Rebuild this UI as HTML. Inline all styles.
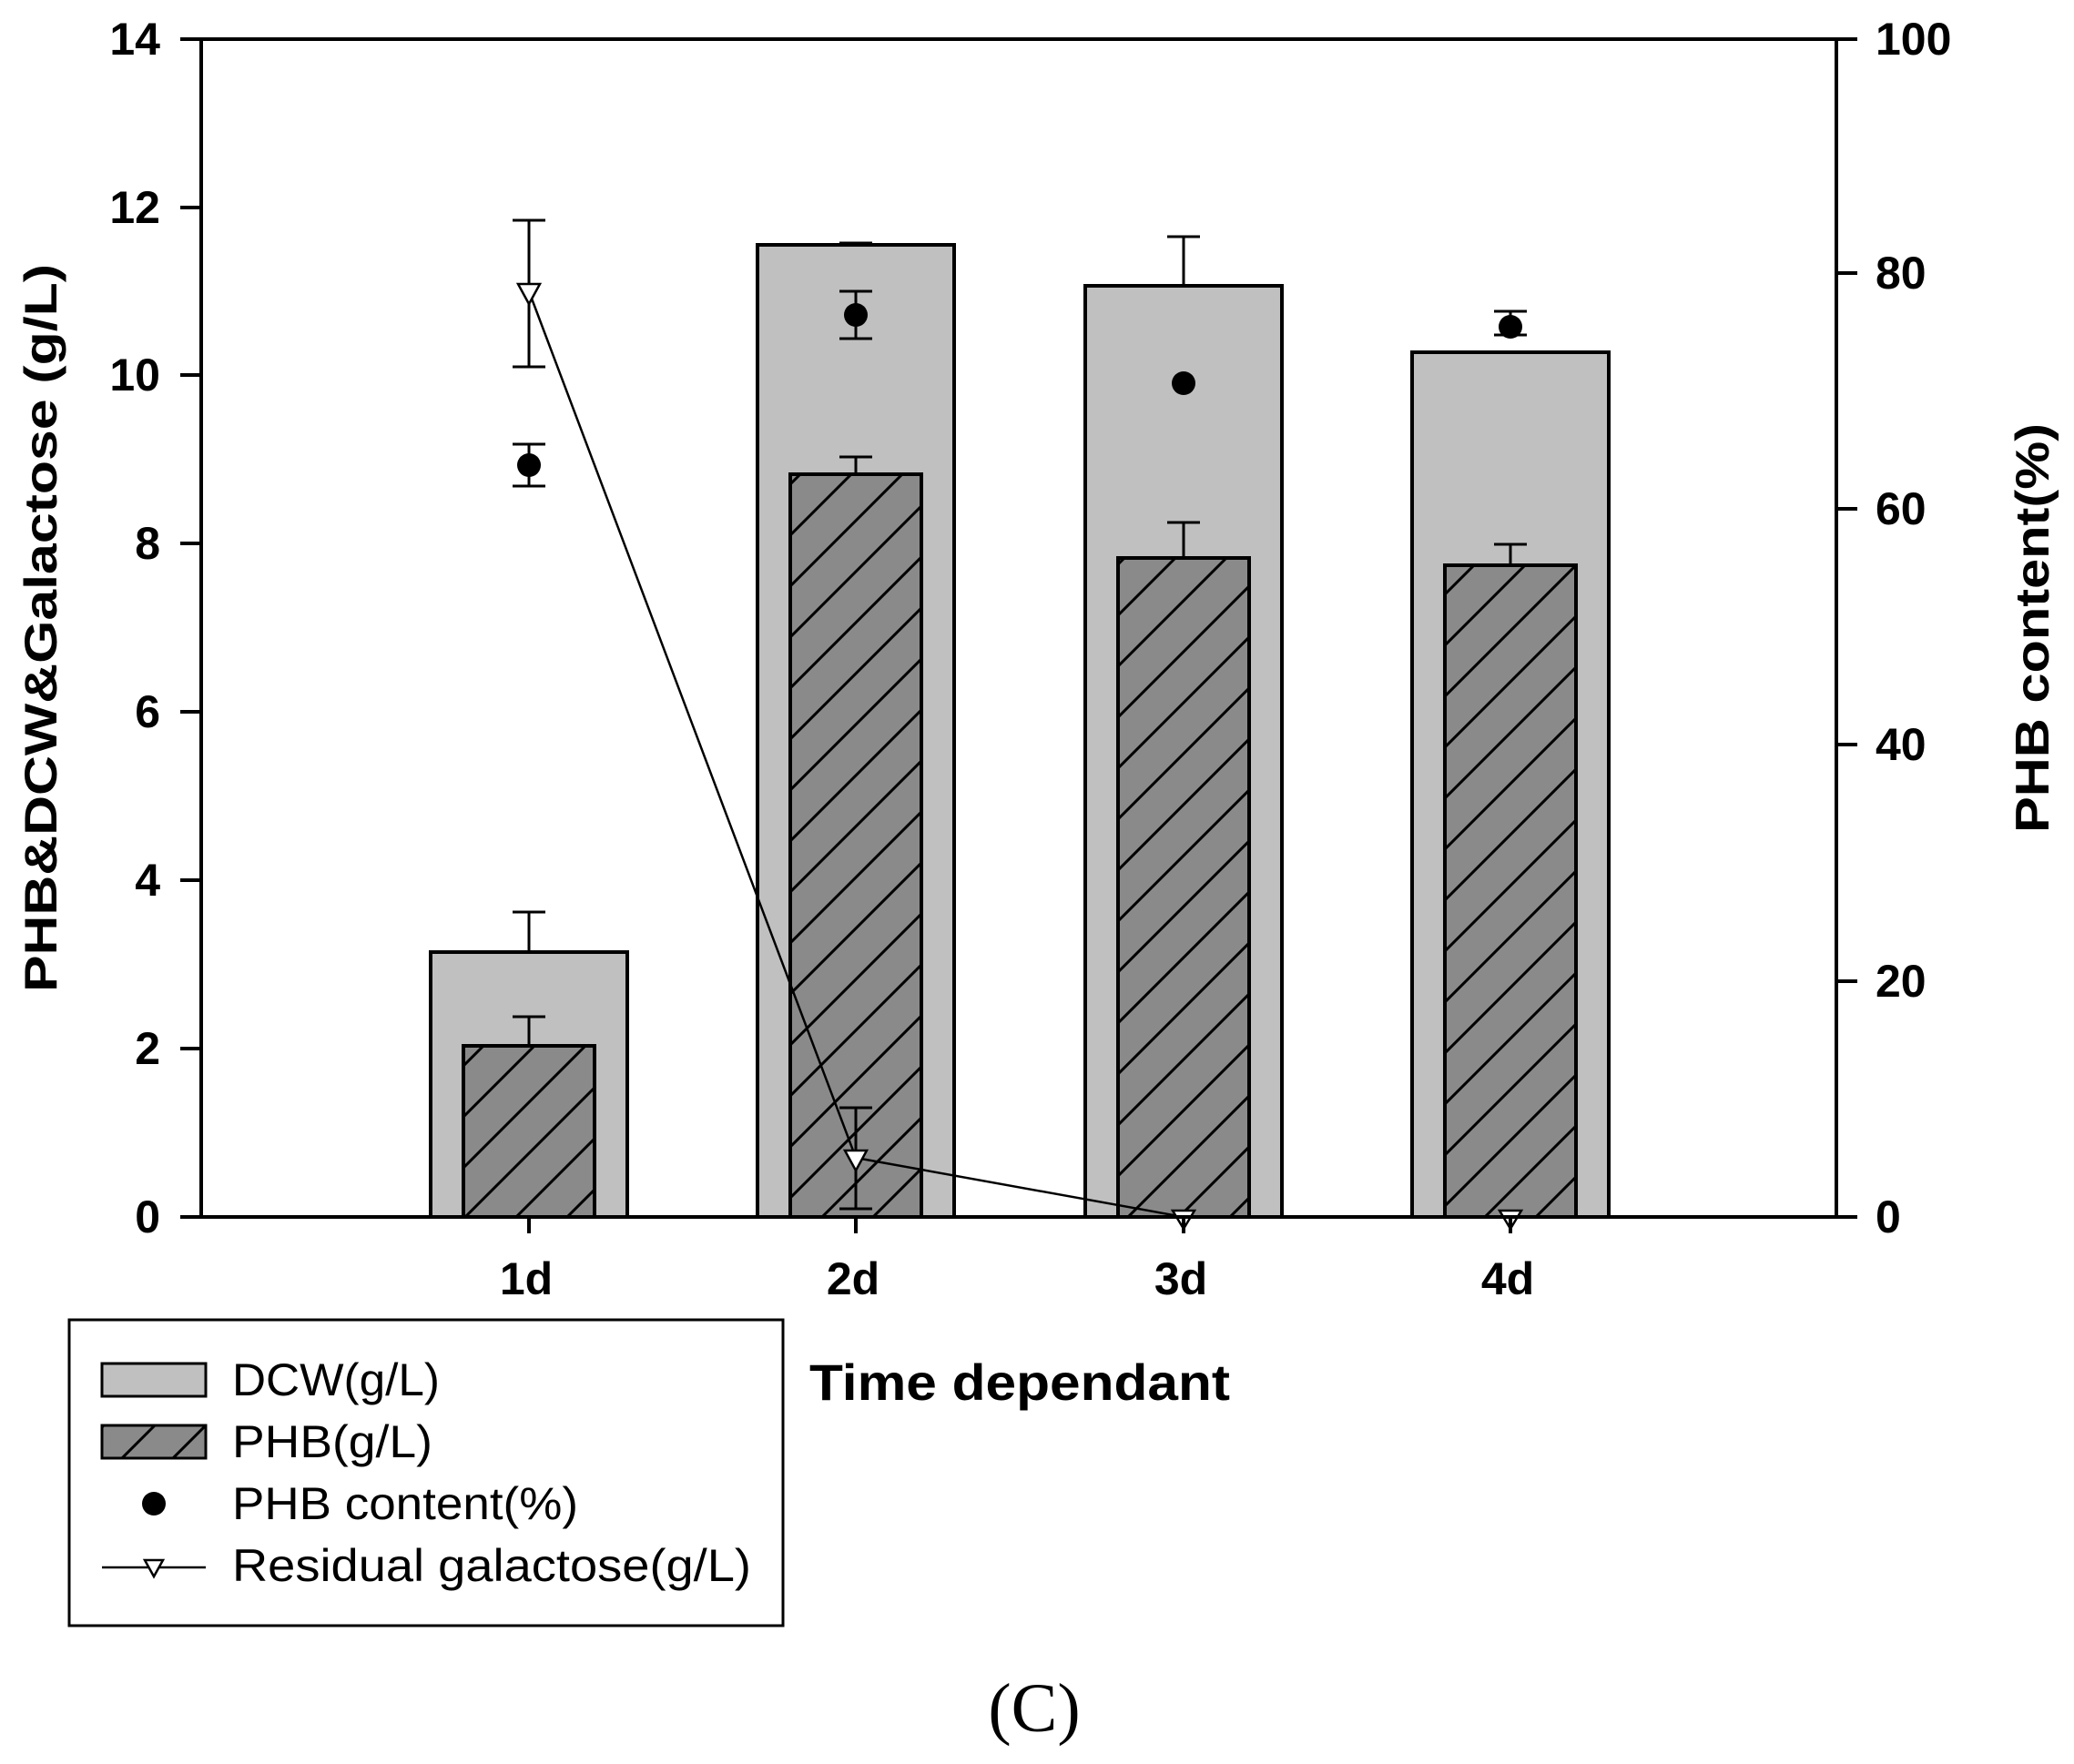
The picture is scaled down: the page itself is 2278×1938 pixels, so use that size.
<!DOCTYPE html>
<html><head><meta charset="utf-8"><style>html,body{margin:0;padding:0;background:#fff}svg{display:block}</style></head>
<body>
<svg width="2278" height="1938" viewBox="0 0 2278 1938" xmlns="http://www.w3.org/2000/svg" font-family="Liberation Sans, Arial, sans-serif">
<defs>
<pattern id="h" patternUnits="userSpaceOnUse" width="56" height="56">
<rect width="56" height="56" fill="#8a8a8a"/>
<path d="M-14,14 L14,-14 M0,56 L56,0 M42,70 L70,42" stroke="#000" stroke-width="3"/>
</pattern>
</defs>
<g stroke="#000" stroke-width="4">
<rect x="473" y="1046" width="216" height="291" fill="#c0c0c0"/>
<rect x="832" y="269" width="216" height="1068" fill="#c0c0c0"/>
<rect x="1192" y="314" width="216" height="1023" fill="#c0c0c0"/>
<rect x="1551" y="387" width="216" height="950" fill="#c0c0c0"/>
<rect x="509" y="1149" width="144" height="188" fill="url(#h)"/>
<rect x="868" y="521" width="144" height="816" fill="url(#h)"/>
<rect x="1228" y="613" width="144" height="724" fill="url(#h)"/>
<rect x="1587" y="621" width="144" height="716" fill="url(#h)"/>
</g>
<g stroke="#000" stroke-width="3" fill="none">
<path d="M581,1046V1002M563,1002H599"/>
<path d="M940,269V267M922,267H958"/>
<path d="M1300,314V260M1282,260H1318"/>
<path d="M581,1149V1117M563,1117H599"/>
<path d="M940,521V502M922,502H958"/>
<path d="M1300,613V574M1282,574H1318"/>
<path d="M1659,621V598M1641,598H1677"/>
<path d="M581,488V534M563,488H599M563,534H599"/>
<path d="M940,320V372M922,320H958M922,372H958"/>
<path d="M1659,342V368M1641,342H1677M1641,368H1677"/>
<path d="M581,242V403M563,242H599M563,403H599"/>
<path d="M940,1217V1328M922,1217H958M922,1328H958"/>
<polyline points="581,320 940,1272 1300,1337 1659,1337" stroke-width="2.5"/>
</g>
<g fill="#000">
<circle cx="581" cy="511" r="13"/>
<circle cx="940" cy="346" r="13"/>
<circle cx="1300" cy="421" r="13"/>
<circle cx="1659" cy="359" r="13"/>
</g>
<g fill="#fff" stroke="#000" stroke-width="2.5">
<path d="M569,312H593L581,334Z"/>
<path d="M928,1264H952L940,1286Z"/>
<path d="M1288,1330H1312L1300,1350Z"/>
<path d="M1647,1330H1671L1659,1350Z"/>
</g>
<g stroke="#000" stroke-width="4" fill="none">
<rect x="221" y="43" width="1796" height="1294"/>
<path d="M198,43H221M198,228H221M198,412H221M198,597H221M198,782H221M198,967H221M198,1152H221M198,1337H221"/>
<path d="M2017,43H2040M2017,300H2040M2017,559H2040M2017,818H2040M2017,1078H2040M2017,1337H2040"/>
<path d="M581,1337V1355M940,1337V1355M1300,1337V1355M1659,1337V1355"/>
</g>
<g font-weight="bold" font-size="50" fill="#000" text-anchor="end">
<text x="176" y="60">14</text><text x="176" y="245">12</text><text x="176" y="429">10</text>
<text x="176" y="614">8</text><text x="176" y="799">6</text><text x="176" y="984">4</text>
<text x="176" y="1169">2</text><text x="176" y="1354">0</text>
</g>
<g font-weight="bold" font-size="50" fill="#000" text-anchor="start">
<text x="2060" y="60">100</text><text x="2060" y="317">80</text><text x="2060" y="576">60</text>
<text x="2060" y="835">40</text><text x="2060" y="1095">20</text><text x="2060" y="1354">0</text>
</g>
<g font-weight="bold" font-size="50" fill="#000" text-anchor="middle">
<text x="578" y="1422">1d</text><text x="937" y="1422">2d</text><text x="1297" y="1422">3d</text><text x="1656" y="1422">4d</text>
</g>
<text transform="translate(62,690) rotate(-90)" text-anchor="middle" font-weight="bold" font-size="50" textLength="800" lengthAdjust="spacingAndGlyphs">PHB&amp;DCW&amp;Galactose (g/L)</text>
<text transform="translate(2250,690) rotate(-90)" text-anchor="middle" font-weight="bold" font-size="52" textLength="450" lengthAdjust="spacingAndGlyphs">PHB content(%)</text>
<text x="889" y="1538" font-weight="bold" font-size="56" textLength="462" lengthAdjust="spacingAndGlyphs">Time dependant</text>
<rect x="76" y="1450" width="784" height="336" fill="#fff" stroke="#000" stroke-width="3"/>
<rect x="112" y="1498" width="114" height="36" fill="#c0c0c0" stroke="#000" stroke-width="3"/>
<rect x="112" y="1566" width="114" height="36" fill="url(#h)" stroke="#000" stroke-width="3"/>
<circle cx="169" cy="1652" r="13"/>
<path d="M112,1722H226" stroke="#000" stroke-width="2.5"/>
<path d="M159,1714H179L169,1732Z" fill="#fff" stroke="#000" stroke-width="2.5"/>
<g font-size="50" fill="#000">
<text x="255" y="1533" textLength="228" lengthAdjust="spacingAndGlyphs">DCW(g/L)</text>
<text x="255" y="1601" textLength="220" lengthAdjust="spacingAndGlyphs">PHB(g/L)</text>
<text x="255" y="1669" textLength="380" lengthAdjust="spacingAndGlyphs">PHB content(%)</text>
<text x="255" y="1737" textLength="570" lengthAdjust="spacingAndGlyphs">Residual galactose(g/L)</text>
</g>
<text x="1136" y="1902" text-anchor="middle" font-family="Liberation Serif, serif" font-size="76">(C)</text>
</svg>
</body></html>
